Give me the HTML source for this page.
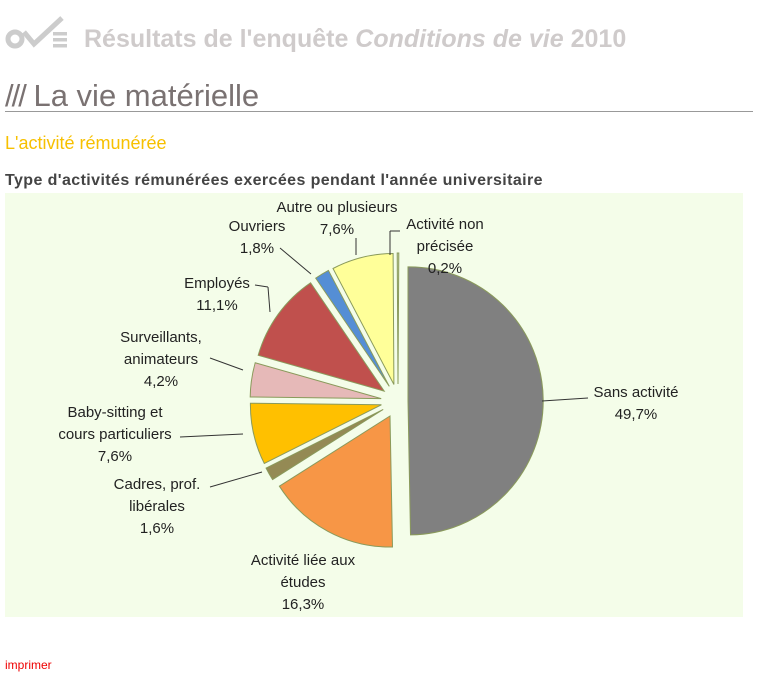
<!DOCTYPE html>
<html><head><meta charset="utf-8"><style>
body{margin:0;width:757px;height:686px;background:#fff;font-family:"Liberation Sans",sans-serif;position:relative;overflow:hidden}
.a{position:absolute;white-space:nowrap}
</style></head><body>
<svg class="a" style="left:4px;top:10px" width="70" height="40" viewBox="0 0 70 40">
<circle cx="11" cy="29" r="7" fill="none" stroke="#ccc" stroke-width="5"/>
<path d="M20 22 L30 34 L58 8" fill="none" stroke="#ccc" stroke-width="5"/>
<rect x="49" y="22" width="14" height="3.5" fill="#ccc"/><rect x="49" y="28" width="14" height="3.5" fill="#ccc"/><rect x="49" y="34" width="14" height="3.5" fill="#ccc"/>
</svg>
<div class="a" style="left:84px;top:25px;font-size:25px;font-weight:bold;color:#cfcbcb">Résultats de l'enquête <i>Conditions de vie</i> 2010</div>
<div class="a" style="left:5px;top:78px;font-size:31px;color:#7a7272"><span style="letter-spacing:-2px">///</span> La vie matérielle</div>
<div class="a" style="left:5px;top:111px;width:748px;height:1px;background:#999"></div>
<div class="a" style="left:5px;top:133px;font-size:18px;color:#f7c000">L'activité rémunérée</div>
<div class="a" style="left:5px;top:172px;font-size:16px;letter-spacing:0.4px;font-weight:bold;color:#444">Type d'activités rémunérées exercées pendant l'année universitaire</div>
<div class="a" style="left:5px;top:193px;width:738px;height:424px;background:#f4fde9"></div>
<svg id="s" class="a" style="left:0;top:0" width="757" height="686"></svg>
<div class="a" style="left:5px;top:658px;font-size:12px;color:#e00">imprimer</div>
<script>
var d=[[49.7,'#808080'],[16.3,'#f79646'],[1.6,'#948a54'],[7.6,'#ffc000'],[4.2,'#e6b9b8'],[11.1,'#c0504d'],[1.8,'#558ed5'],[7.6,'#ffff99'],[0.2,'#d7e4bd']];
var cx=398,cy=401,r=134,a=0,h='';
function p(ang,rr,ox,oy){var t=ang*Math.PI/180;return [(ox+rr*Math.sin(t)).toFixed(1),(oy-rr*Math.cos(t)).toFixed(1)];}
d.forEach(function(s,i){var ex=i==0?10:17;var rr=i==0?134:131;var a2=a+s[0]*3.6,m=(a+a2)/2,o=p(m,ex,cx,cy),p1=p(a,rr,+o[0],+o[1]),p2=p(a2,rr,+o[0],+o[1]);
h+='<path d="M'+o[0]+' '+o[1]+'L'+p1[0]+' '+p1[1]+'A'+rr+' '+rr+' 0 '+((a2-a)>180?1:0)+' 1 '+p2[0]+' '+p2[1]+'Z" fill="'+s[1]+'" stroke="#8a9a5b" stroke-width="1"/>';a=a2;});
var L=[[542,401,588,398],[210,487,262,472],[180,437,243,434],[210,358,243,370],[255,285,268,287],[268,287,270,312],[280,248,311,274],[356,238,356,255],[400,231,390,231],[390,231,390,255]];
L.forEach(function(l){h+='<line x1="'+l[0]+'" y1="'+l[1]+'" x2="'+l[2]+'" y2="'+l[3]+'" stroke="#333" stroke-width="1"/>';});
var T=[[636,['Sans activité','49,7%'],397],[303,['Activité liée aux','études','16,3%'],565],[157,['Cadres, prof.','libérales','1,6%'],489],[115,['Baby-sitting et','cours particuliers','7,6%'],417],[161,['Surveillants,','animateurs','4,2%'],342],[217,['Employés','11,1%'],288],[257,['Ouvriers','1,8%'],231],[337,['Autre ou plusieurs','7,6%'],212],[445,['Activité non','précisée','0,2%'],229]];
T.forEach(function(t){t[1].forEach(function(s,i){h+='<text x="'+t[0]+'" y="'+(t[2]+i*22)+'" text-anchor="middle" font-family="Liberation Sans,sans-serif" font-size="15" fill="#222">'+s+'</text>';});});
document.getElementById('s').innerHTML=h;
</script>
</body></html>
